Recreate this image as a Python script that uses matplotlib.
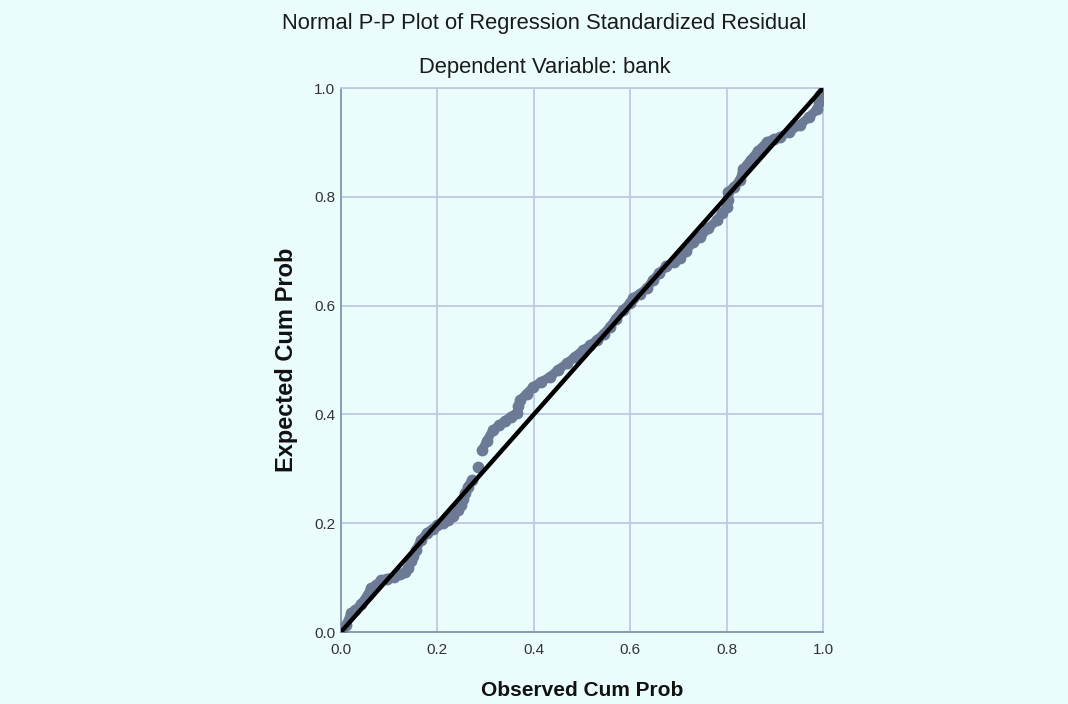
import matplotlib
matplotlib.use('Agg')
import matplotlib.pyplot as plt

# P-P plot values (observed vs expected cum prob)
observed = [0.000, 0.010, 0.021, 0.030, 0.042, 0.055, 0.062, 0.072, 0.083, 0.095,
            0.110, 0.122, 0.133, 0.140, 0.145, 0.150, 0.155, 0.166, 0.178, 0.190,
            0.200, 0.212, 0.222, 0.232, 0.243, 0.248, 0.253, 0.258, 0.263, 0.272,
            0.284,
            0.293, 0.303, 0.315, 0.328, 0.340, 0.352, 0.365, 0.368, 0.371, 0.385,
            0.398, 0.415, 0.434, 0.450, 0.469, 0.485, 0.502, 0.517, 0.531, 0.545,
            0.558, 0.570, 0.585, 0.600, 0.606, 0.620, 0.635, 0.647, 0.660, 0.675,
            0.690, 0.703, 0.715, 0.730, 0.745, 0.762, 0.780, 0.790, 0.801, 0.802,
            0.803, 0.815, 0.828, 0.834, 0.850, 0.865, 0.884, 0.898, 0.911, 0.930,
            0.952, 0.970, 0.988, 0.992, 0.994, 1.000]
expected = [0.000, 0.012, 0.035, 0.040, 0.052, 0.068, 0.081, 0.086, 0.096, 0.098,
            0.102, 0.106, 0.110, 0.118, 0.130, 0.140, 0.150, 0.169, 0.182, 0.190,
            0.196, 0.201, 0.206, 0.214, 0.224, 0.234, 0.245, 0.256, 0.267, 0.280,
            0.303,
            0.335, 0.352, 0.371, 0.380, 0.388, 0.396, 0.403, 0.415, 0.426, 0.438,
            0.450, 0.460, 0.469, 0.482, 0.494, 0.506, 0.518, 0.527, 0.537, 0.548,
            0.561, 0.576, 0.592, 0.605, 0.614, 0.622, 0.632, 0.647, 0.660, 0.672,
            0.680, 0.688, 0.700, 0.716, 0.726, 0.742, 0.757, 0.770, 0.781, 0.795,
            0.809, 0.818, 0.831, 0.851, 0.868, 0.884, 0.901, 0.906, 0.910, 0.920,
            0.932, 0.946, 0.961, 0.975, 0.987, 0.995]
gap_at = 30  # isolated point before the jump

ticks = [0.0, 0.2, 0.4, 0.6, 0.8, 1.0]
tick_labels = ['0.0', '0.2', '0.4', '0.6', '0.8', '1.0']

bg = '#eafcfc'
dot_col = '#6d7a95'
grid_col = '#bfcae3'

plt.rcParams['font.family'] = ['Liberation Sans', 'DejaVu Sans']

fig = plt.figure(figsize=(10.68, 7.04), dpi=100, facecolor=bg)
ax = fig.add_axes([341/1068, 72/704, 482/1068, 544/704], facecolor=bg)

# dots, with a band of same colour so they read as one thick trail
ax.plot(observed[:gap_at], expected[:gap_at], '-', color=dot_col, lw=6.5,
        solid_capstyle='round', solid_joinstyle='round', zorder=2)
ax.plot(observed[gap_at + 1:], expected[gap_at + 1:], '-', color=dot_col, lw=6.5,
        solid_capstyle='round', solid_joinstyle='round', zorder=2)
ax.plot(observed, expected, 'o', color=dot_col, ms=8.5, mec='none', zorder=3)

# reference line
ax.plot([0, 1], [0, 1], color='black', lw=3.2, solid_capstyle='round', zorder=4)

ax.set_xlim(0, 1)
ax.set_ylim(0, 1)
ax.set_xticks(ticks)
ax.set_xticklabels(tick_labels, fontsize=11, color='#333333')
ax.set_yticks(ticks)
ax.set_yticklabels(tick_labels, fontsize=11, color='#333333')
ax.tick_params(axis='x', length=0, pad=8)
ax.tick_params(axis='y', length=0, pad=4)
ax.grid(True, color=grid_col, lw=1.3)
ax.set_axisbelow(True)

for s in ['top', 'right']:
    ax.spines[s].set_color(grid_col)
    ax.spines[s].set_linewidth(1.3)
for s in ['left', 'bottom']:
    ax.spines[s].set_color('#8495b0')
    ax.spines[s].set_linewidth(1.3)

ax.set_xlabel('Observed Cum Prob', fontsize=15, fontweight='bold',
              labelpad=17, color='#111111')
ax.set_ylabel('Expected Cum Prob', fontsize=17, fontweight='bold',
              labelpad=12, color='#111111')

fig.text(544/1068, 1 - 24/704, 'Normal P-P Plot of Regression Standardized Residual',
         ha='center', va='center', fontsize=15.8, color='#1a1a1a')
fig.text(545/1068, 1 - 68/704, 'Dependent Variable: bank',
         ha='center', va='center', fontsize=15.8, color='#1a1a1a')

fig.savefig('out.png', dpi=100, facecolor=bg)
